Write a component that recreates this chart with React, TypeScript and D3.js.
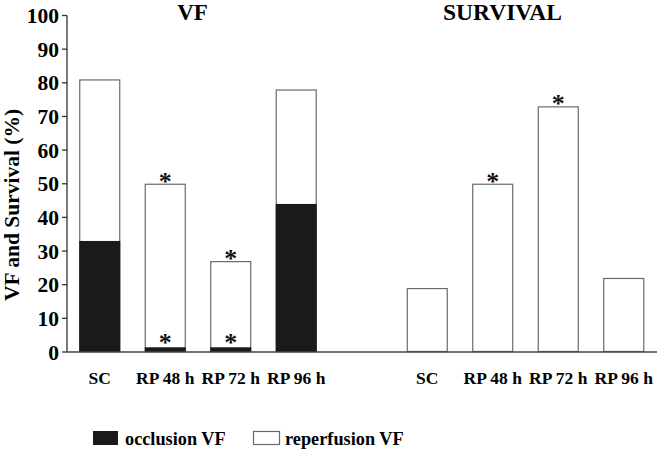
import React from "react";
import * as d3 from "d3";

const categories = ["VF-SC", "VF-RP48", "VF-RP72", "VF-RP96", "gap", "S-SC", "S-RP48", "S-RP72", "S-RP96"];
const tickLabels = ["SC", "RP 48 h", "RP 72 h", "RP 96 h", "", "SC", "RP 48 h", "RP 72 h", "RP 96 h"];
const occlusionVF = [33, 1.4, 1.4, 44];
const totalVF = [81, 50, 27, 78];
const survival = [19, 50, 73, 22];
const starTop = ["VF-RP48", "VF-RP72", "S-RP48", "S-RP72"];
const starOcclusion = ["VF-RP48", "VF-RP72"];
const yTicks = [0, 10, 20, 30, 40, 50, 60, 70, 80, 90, 100];

const W = 662, H = 452;
const FONT = "'Liberation Serif', 'Times New Roman', serif";

export default function App() {
  const x = d3.scaleBand<string>().domain(categories).range([67, 656.5]).paddingInner(0.374).paddingOuter(0.187);
  const y = d3.scaleLinear().domain([0, 100]).range([352, 15.5]);
  const bw = x.bandwidth();
  const vfCats = categories.slice(0, 4);
  const sCats = categories.slice(5);
  const outline = "#6a6a6a";
  const black = "#1a1a1a";

  const valueOf = (c: string) => {
    const i = vfCats.indexOf(c);
    if (i >= 0) return totalVF[i];
    return survival[sCats.indexOf(c)];
  };

  return (
    <svg width={W} height={H} style={{ position: "absolute", left: 0, top: 0, background: "#fff" }} fontFamily={FONT} fontWeight="bold">
      <rect x={0} y={0} width={W} height={H} fill="#fff" />
      {/* VF stacked bars */}
      {vfCats.map((c, i) => (
        <g key={c}>
          <rect x={x(c)! + 0.5} y={y(totalVF[i]) + 0.5} width={bw - 1} height={y(0) - y(totalVF[i]) - 1} fill="#fff" stroke={outline} strokeWidth={1.2} />
          <rect x={x(c)!} y={y(occlusionVF[i])} width={bw} height={y(0) - y(occlusionVF[i])} fill={black} />
        </g>
      ))}
      {/* Survival bars */}
      {sCats.map((c, i) => (
        <rect key={c} x={x(c)! + 0.5} y={y(survival[i]) + 0.5} width={bw - 1} height={y(0) - y(survival[i]) - 1} fill="#fff" stroke={outline} strokeWidth={1.2} />
      ))}
      {/* asterisks */}
      {starTop.map((c) => (
        <text key={"t" + c} x={x(c)! + bw / 2} y={y(valueOf(c)) + 6} fontSize={26} textAnchor="middle" fill="#111">*</text>
      ))}
      {starOcclusion.map((c) => (
        <text key={"o" + c} x={x(c)! + bw / 2} y={y(occlusionVF[vfCats.indexOf(c)]) + 4} fontSize={26} textAnchor="middle" fill="#111">*</text>
      ))}
      {/* axes */}
      <line x1={67} x2={67} y1={y(100)} y2={y(0)} stroke="#333" strokeWidth={1.3} />
      <line x1={67} x2={657} y1={y(0)} y2={y(0)} stroke="#444" strokeWidth={1.3} />
      {yTicks.map((t) => (
        <g key={t}>
          <line x1={62} x2={67} y1={y(t)} y2={y(t)} stroke="#333" strokeWidth={1.3} />
          <text x={59} y={y(t) + 7.5} fontSize={21.5} textAnchor="end" fill="#000">{t}</text>
        </g>
      ))}
      {categories.map((c, i) => (
        <text key={"l" + c} x={x(c)! + bw / 2} y={384} fontSize={17.5} textAnchor="middle" fill="#000">{tickLabels[i]}</text>
      ))}
      {/* titles */}
      <text x={192.5} y={20} fontSize={23} textAnchor="middle" fill="#000">VF</text>
      <text x={502.5} y={20} fontSize={23.5} textAnchor="middle" fill="#000">SURVIVAL</text>
      <text transform={`translate(19,205) rotate(-90)`} fontSize={21.5} textAnchor="middle" fill="#000">VF and Survival (%)</text>
      {/* legend */}
      <rect x={93} y={431} width={25} height={14} fill={black} />
      <text x={125} y={445} fontSize={18.3} fill="#000">occlusion VF</text>
      <rect x={253.5} y={431.5} width={26} height={13} fill="#fff" stroke={outline} strokeWidth={1.2} />
      <text x={285} y={445} fontSize={18.3} fill="#000">reperfusion VF</text>
    </svg>
  );
}
